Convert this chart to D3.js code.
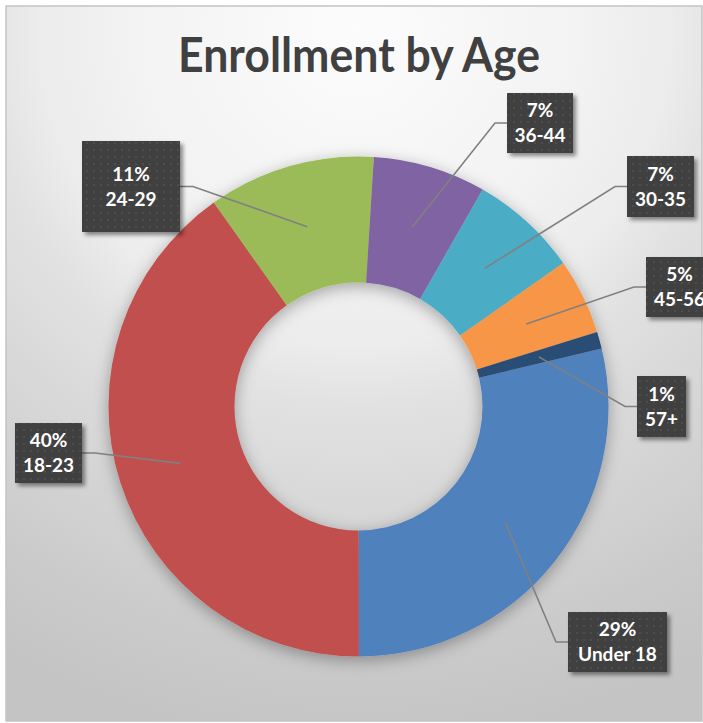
<!DOCTYPE html>
<html><head><meta charset="utf-8">
<script src="https://cdn.jsdelivr.net/npm/d3@7"></script>
<style>html,body{margin:0;padding:0;background:#fff;} svg{display:block;}</style>
</head><body>
<script>
// ---- data ----
const categories = ["Under 18", "18-23", "24-29", "36-44", "30-35", "45-56", "57+"];
const values = [28.7, 40.2, 10.8, 7.3, 7.0, 4.9, 1.1];
const colors = ["#4F81BD", "#C0504D", "#9BBB59", "#8064A2", "#4BACC6", "#F79646", "#2C4D75"];
const title = "Enrollment by Age";

// ---- layout of the data-label callout boxes (annotation positions) ----
const labelBoxes = [
  {x: 568, y: 612, w: 99, h: 60, side: "right"},
  {x: 15,  y: 423, w: 67, h: 60, side: "left"},
  {x: 82,  y: 141, w: 98, h: 91, side: "left"},
  {x: 507, y: 93,  w: 66, h: 60, side: "right"},
  {x: 627, y: 156, w: 67, h: 61, side: "right"},
  {x: 646, y: 257, w: 67, h: 60, side: "right"},
  {x: 637, y: 376, w: 49, h: 61, side: "right"}
];

const W = 703, H = 723;
const cx = 358.5, cy = 406.5, R = 250, r = 124;
const startDeg = 76.6;

const svg = d3.select("body").append("svg").attr("width", W).attr("height", H);
const defs = svg.append("defs");

const bg = defs.append("radialGradient").attr("id", "bg")
  .attr("gradientUnits", "userSpaceOnUse").attr("cx", 355).attr("cy", 30).attr("r", 720);
[[0, "#fcfcfc"], [0.30, "#f3f3f3"], [0.44, "#ececec"], [0.52, "#e2e2e2"],
 [0.66, "#d8d8d8"], [0.89, "#c9c9c9"], [1, "#c4c4c4"]]
  .forEach(([o, c]) => bg.append("stop").attr("offset", o).attr("stop-color", c));

const pat = defs.append("pattern").attr("id", "dots").attr("patternUnits", "userSpaceOnUse")
  .attr("width", 7).attr("height", 7);
pat.append("rect").attr("width", 7).attr("height", 7).attr("fill", "#404040");
pat.append("rect").attr("x", 2).attr("y", 2).attr("width", 2).attr("height", 2).attr("fill", "#4e4e4e");

const f1 = defs.append("filter").attr("id", "ringShadow").attr("x", "-20%").attr("y", "-20%").attr("width", "140%").attr("height", "140%");
f1.append("feDropShadow").attr("dx", 0).attr("dy", 4).attr("stdDeviation", 8)
  .attr("flood-color", "#000").attr("flood-opacity", 0.32);
const f2 = defs.append("filter").attr("id", "boxShadow").attr("x", "-20%").attr("y", "-20%").attr("width", "150%").attr("height", "150%");
f2.append("feDropShadow").attr("dx", 3).attr("dy", 3).attr("stdDeviation", 2)
  .attr("flood-color", "#000").attr("flood-opacity", 0.45);

// frame
svg.append("rect").attr("x", 6).attr("y", 6).attr("width", 696).attr("height", 715)
  .attr("fill", "url(#bg)").attr("stroke", "#c4c4c4").attr("stroke-width", 1.5);

// title
svg.append("text").attr("x", 359).attr("y", 72)
  .attr("text-anchor", "middle")
  .attr("textLength", 362).attr("lengthAdjust", "spacingAndGlyphs")
  .style("font-family", "Lato, 'Open Sans', sans-serif").style("font-weight", 700)
  .style("font-size", "47px").attr("fill", "#404040")
  .text(title);

// donut
const toRad = d => d * Math.PI / 180;
const pie = d3.pie().sort(null).value(d => d.value)
  .startAngle(toRad(startDeg)).endAngle(toRad(startDeg) + 2 * Math.PI);
const data = categories.map((c, i) => ({cat: c, value: values[i], color: colors[i], box: labelBoxes[i]}));
const arcs = pie(data);
const arc = d3.arc().innerRadius(r).outerRadius(R);
const total = d3.sum(values);
const pct = d3.format(".0%");

const g = svg.append("g").attr("transform", `translate(${cx},${cy})`);
g.append("g").attr("filter", "url(#ringShadow)")
  .selectAll("path").data(arcs).join("path")
  .attr("d", arc).attr("fill", d => d.data.color);

// leader lines
const line = d3.line();
svg.append("g").selectAll("path").data(arcs).join("path")
  .attr("d", d => {
    const [px, py] = arc.centroid(d);
    const b = d.data.box;
    const ymid = b.y + b.h / 2;
    const edge = b.side === "right" ? b.x : b.x + b.w;
    const elbow = b.side === "right" ? edge - 12 : edge + 13;
    return line([[cx + px, cy + py], [elbow, ymid], [edge, ymid]]);
  })
  .attr("fill", "none").attr("stroke", "#808080").attr("stroke-width", 1.6);

// label boxes
const lg = svg.append("g").selectAll("g").data(arcs).join("g");
lg.append("rect")
  .attr("x", d => d.data.box.x).attr("y", d => d.data.box.y)
  .attr("width", d => d.data.box.w).attr("height", d => d.data.box.h)
  .attr("fill", "url(#dots)").attr("filter", "url(#boxShadow)");
const txt = lg.append("text")
  .attr("text-anchor", "middle")
  .style("font-family", "Lato, 'Open Sans', sans-serif").style("font-weight", 700)
  .style("font-size", "19px").attr("fill", "#ffffff");
txt.append("tspan")
  .attr("x", d => d.data.box.x + d.data.box.w / 2)
  .attr("y", d => d.data.box.y + d.data.box.h / 2 - 12.5)
  .attr("dy", "0.35em")
  .text(d => pct(d.data.value / total));
txt.append("tspan")
  .attr("x", d => d.data.box.x + d.data.box.w / 2)
  .attr("y", d => d.data.box.y + d.data.box.h / 2 + 12.5)
  .attr("dy", "0.35em")
  .text(d => d.data.cat);
</script>
</body></html>
